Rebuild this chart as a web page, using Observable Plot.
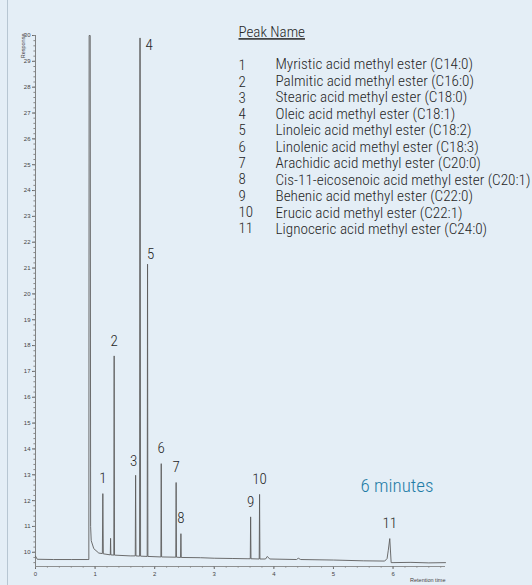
<!DOCTYPE html>
<html>
<head>
<meta charset="utf-8">
<script src="https://cdn.jsdelivr.net/npm/d3@7"></script>
<script src="https://cdn.jsdelivr.net/npm/@observablehq/plot@0.6"></script>
<style>
  html, body { margin: 0; padding: 0; background: #e4eef6; }
  #wrap { position: relative; width: 532px; height: 585px; background: #e4eef6; overflow: hidden; }
  #edge { position: absolute; left: 7px; top: 0; width: 1px; height: 585px; background: #b7c6d2; }
  svg { display: block; }
</style>
</head>
<body>
<div id="wrap"><div id="edge"></div></div>
<script>
// ---- data ----
// trace (retention time in minutes, response)
const traceTime = [
  0, 0.03, 0.3, 0.6, 0.88, 0.895, 0.900, 0.918, 0.925, 0.935, 0.978, 1.062,
  1.122, 1.13, 1.138,
  1.255, 1.26, 1.265,
  1.314, 1.32, 1.326,
  1.59,
  1.674, 1.68, 1.686,
  1.746, 1.751, 1.757, 1.763,
  1.874, 1.88, 1.886,
  2.104, 2.11, 2.116,
  2.354, 2.36, 2.366,
  2.434, 2.44, 2.446,
  2.77, 3.0, 3.3, 3.55,
  3.604, 3.61, 3.616,
  3.754, 3.76, 3.766,
  3.86, 3.89, 3.93,
  4.38, 4.41, 4.45,
  5.0, 5.5, 5.86, 5.90, 5.92, 5.945, 5.968, 6.0, 6.3, 6.6, 6.88
];
const traceResponse = [
  9.85, 9.73, 9.72, 9.72, 9.72, 9.72, 30, 30, 11.0, 10.45, 10.14, 9.97,
  9.95, 12.27, 9.94,
  9.90, 10.54, 9.90,
  9.89, 17.6, 9.89,
  9.86,
  9.86, 12.98, 9.86,
  9.85, 29.9, 29.9, 9.85,
  9.84, 21.15, 9.84,
  9.82, 13.43, 9.82,
  9.81, 12.70, 9.81,
  9.80, 10.72, 9.80,
  9.79, 9.77, 9.76, 9.75,
  9.75, 11.37, 9.75,
  9.74, 12.24, 9.74,
  9.74, 9.84, 9.74,
  9.72, 9.77, 9.72,
  9.70, 9.67, 9.66, 9.76, 10.08, 10.53, 9.60, 9.60, 9.61, 9.59, 9.60
];
// numbered peaks
const peakNo = ["1","2","3","4","5","6","7","8","9","10","11"];
const peakTime = [1.13, 1.32, 1.68, 1.754, 1.88, 2.11, 2.36, 2.44, 3.61, 3.76, 5.945];
const peakHeight = [12.27, 17.6, 12.98, 30, 21.15, 13.43, 12.70, 10.72, 11.37, 12.24, 10.53];
const peakNames = [
  "Myristic acid methyl ester (C14:0)",
  "Palmitic acid methyl ester (C16:0)",
  "Stearic acid methyl ester (C18:0)",
  "Oleic acid methyl ester (C18:1)",
  "Linoleic acid methyl ester (C18:2)",
  "Linolenic acid methyl ester (C18:3)",
  "Arachidic acid methyl ester (C20:0)",
  "Cis-11-eicosenoic acid methyl ester (C20:1)",
  "Behenic acid methyl ester (C22:0)",
  "Erucic acid methyl ester (C22:1)",
  "Lignoceric acid methyl ester (C24:0)"
];
// axes
const xTicks = [0, 1, 2, 3, 4, 5, 6];
const yTicks = [10, 11, 12, 13, 14, 15, 16, 17, 18, 19, 20, 21, 22, 23, 24, 25, 26, 27, 28, 29, 30];
const xDomain = [0, 6.88];
const yDomain = [9.45, 30];
const xTitle = "Retention time";
const yTitle = "Response";
const legendTitle = "Peak Name";
const runTime = "6 minutes";

// ---- build ----
const trace = traceTime.map((t, i) => ({t, r: traceResponse[i]}));
const peaks = peakNo.map((n, i) => ({n, t: peakTime[i], h: peakHeight[i]}));
const xMinor = d3.range(0, 6.81, 0.2).map(v => +v.toFixed(1));
const yMinor = d3.range(9.6, 30.01, 0.2).map(v => +v.toFixed(1));

const labelFont = "'Roboto Condensed', 'Liberation Sans Narrow', 'Arial Narrow', 'DejaVu Sans Condensed', sans-serif";
const txt = {fontFamily: labelFont, fontWeight: 300, fill: "#262626"};
const general = peaks.filter(p => !["3", "4", "5"].includes(p.n));

const chart = Plot.plot({
  width: 532,
  height: 585,
  marginLeft: 35,
  marginRight: 87,
  marginTop: 35,
  marginBottom: 19,
  x: {domain: xDomain, axis: null},
  y: {domain: yDomain, axis: null},
  style: {background: "transparent", fontSize: "6px", fontFamily: "'Liberation Sans', Arial, sans-serif", color: "#333"},
  marks: [
    // axes
    Plot.ruleX([xDomain[0]], {stroke: "#666", strokeWidth: 0.8}),
    Plot.ruleY([yDomain[0]], {stroke: "#777", strokeWidth: 0.8}),
    Plot.axisY(yTicks, {anchor: "left", tickSize: 3, tickPadding: 2, label: null, stroke: "#666", fill: "#444"}),
    Plot.axisY(yMinor, {anchor: "left", tickSize: 1.6, tickFormat: () => "", label: null, stroke: "#888"}),
    Plot.axisX(xTicks, {anchor: "bottom", tickSize: 3, tickPadding: 2, label: null, stroke: "#666", fill: "#444"}),
    Plot.axisX(xMinor, {anchor: "bottom", tickSize: 1.6, tickFormat: () => "", label: null, stroke: "#888"}),
    Plot.text([xTitle], {frameAnchor: "bottom-right", dy: 15, textAnchor: "end", fontSize: 5.5, fill: "#444"}),
    Plot.text([yTitle], {frameAnchor: "top-left", dx: -14, dy: -2, rotate: -90, textAnchor: "end", fontSize: 5.5, fill: "#444"}),
    // chromatogram
    Plot.line(trace, {x: "t", y: "r", stroke: "#5e5e5e", strokeWidth: 0.9}),
    // peak numbers
    Plot.text(general, {x: "t", y: "h", text: "n", dy: -15, fontSize: 15, ...txt}),
    Plot.text(peaks.filter(p => p.n === "3"), {x: "t", y: "h", text: "n", dx: -2, dy: -14, fontSize: 15, ...txt}),
    Plot.text(peaks.filter(p => p.n === "5"), {x: "t", y: "h", text: "n", dx: 3, dy: -10, fontSize: 15, ...txt}),
    Plot.text(peaks.filter(p => p.n === "4"), {x: "t", y: "h", text: "n", dx: 9, dy: 10, fontSize: 15, ...txt}),
    // legend
    Plot.text([legendTitle], {frameAnchor: "top-left", dx: 203, dy: -9, textAnchor: "start", fontSize: 15, ...txt}),
    Plot.text([peakNo.join("\n")], {frameAnchor: "top-left", dx: 203, dy: 111, textAnchor: "start", lineAnchor: "middle", lineHeight: 16.3 / 15, fontSize: 15, ...txt}),
    Plot.text([peakNames.join("\n")], {frameAnchor: "top-left", dx: 240, dy: 111, textAnchor: "start", lineAnchor: "middle", lineHeight: 16.3 / 15, fontSize: 15.2, ...txt}),
    Plot.text([runTime], {frameAnchor: "top-left", dx: 325, dy: 443, textAnchor: "start", fontSize: 19, ...txt, fill: "#1f7ca6"})
  ]
});
d3.select(chart).selectAll("text").filter(function () { return this.textContent === legendTitle; })
  .style("text-decoration", "underline");
document.getElementById("wrap").appendChild(chart);
</script>
</body>
</html>
